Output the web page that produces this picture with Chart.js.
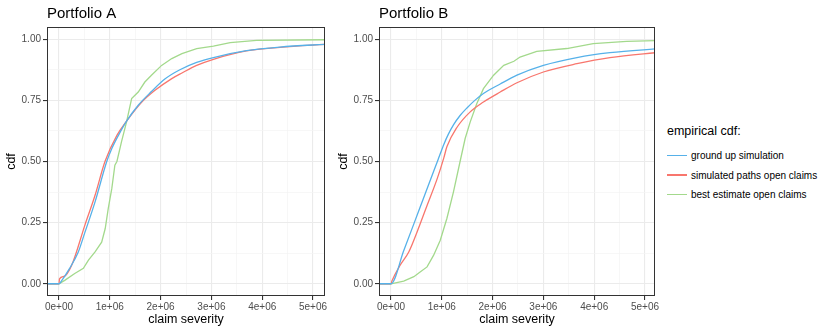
<!DOCTYPE html>
<html>
<head>
<meta charset="utf-8">
<script src="https://cdn.jsdelivr.net/npm/chart.js@4"></script>
<style>
  body{margin:0;background:#fff;font-family:"Liberation Sans",Arial,sans-serif;}
  #wrap{position:relative;width:830px;height:332px;}
  .panel{position:absolute;top:0;width:330px;height:332px;}
  #lg{position:absolute;left:667px;top:120px;color:#000;}
  #lg .t{font-size:12.5px;position:absolute;left:0;top:4px;white-space:nowrap;}
  #lg .it{position:absolute;left:0;font-size:10px;white-space:nowrap;height:14px;line-height:14px;}
  #lg .k{display:inline-block;width:20px;height:1.4px;vertical-align:middle;margin-right:4px;position:relative;top:-1px;}
</style>
</head>
<body>
<div id="wrap">
  <div class="panel" style="left:0"><canvas id="cA" width="330" height="332"></canvas></div>
  <div class="panel" style="left:332px"><canvas id="cB" width="330" height="332"></canvas></div>
  <div id="lg"></div>
</div>
<script>
// x in millions (claim severity / 1e6), y = empirical cdf
const seriesNames = ["ground up simulation","simulated paths open claims","best estimate open claims"];
const seriesColors = ["#56B1E9","#F8766D","#A3D98C"];

const blueA = [[-1,0],[0,0],[0.05,0.012],[0.2,0.06],[0.38,0.13],[0.51,0.21],[0.71,0.335],[0.94,0.50],[1.04,0.553],[1.17,0.607],[1.33,0.665],[1.56,0.73],[1.82,0.786],[2.09,0.838],[2.38,0.875],[2.71,0.905],[3.04,0.925],[3.69,0.953],[4.35,0.968],[5.3,0.98]];
const redA = [[-1,0],[0,0],[0.01,0.02],[0.1,0.03],[0.25,0.076],[0.51,0.24],[0.71,0.362],[0.905,0.50],[1.14,0.607],[1.33,0.665],[1.63,0.743],[1.89,0.791],[2.22,0.839],[2.42,0.862],[2.71,0.893],[3.04,0.918],[3.69,0.952],[4.35,0.967],[5.3,0.98]];
const greenA = [[-1,0],[0,0],[0.12,0.015],[0.31,0.042],[0.48,0.063],[0.58,0.097],[0.71,0.13],[0.84,0.17],[0.91,0.226],[0.97,0.308],[1.04,0.39],[1.10,0.485],[1.14,0.50],[1.23,0.58],[1.33,0.662],[1.43,0.757],[1.56,0.784],[1.69,0.825],[1.82,0.853],[2.02,0.893],[2.22,0.921],[2.42,0.941],[2.71,0.962],[3.04,0.972],[3.37,0.986],[3.89,0.995],[5.3,0.998]];

const blueB = [[-1,0],[0,0],[0.25,0.135],[0.45,0.245],[0.64,0.35],[0.84,0.46],[0.94,0.515],[1.04,0.57],[1.13,0.612],[1.23,0.65],[1.36,0.688],[1.50,0.72],[1.65,0.75],[1.82,0.778],[2.15,0.817],[2.48,0.853],[3.0,0.893],[3.66,0.925],[4.31,0.945],[5.3,0.962]];
const redB = [[-1,0],[0,0],[0.02,0.012],[0.18,0.076],[0.35,0.13],[0.51,0.21],[0.71,0.32],[0.91,0.43],[1.04,0.515],[1.10,0.56],[1.30,0.64],[1.56,0.703],[1.82,0.743],[2.15,0.784],[2.48,0.822],[3.0,0.866],[3.66,0.90],[4.31,0.925],[5.3,0.947]];
const greenB = [[-1,0],[0,0],[0.25,0.011],[0.45,0.029],[0.58,0.049],[0.71,0.069],[0.84,0.117],[0.97,0.178],[1.10,0.267],[1.23,0.376],[1.36,0.50],[1.46,0.594],[1.56,0.662],[1.69,0.737],[1.82,0.798],[2.02,0.853],[2.22,0.893],[2.42,0.91],[2.54,0.927],[2.87,0.95],[3.46,0.962],[3.98,0.982],[4.64,0.991],[5.3,0.995]];

const xMajor = [0,1,2,3,4,5];
const xMinor = [0.5,1.5,2.5,3.5,4.5];
const yMajor = [0,0.25,0.5,0.75,1];
const yMinor = [0.125,0.375,0.625,0.875];

const FONT = "'Liberation Sans', Arial, sans-serif";

// panel title + full border
const panelDeco = {
  id:"panelDeco",
  afterDraw(c){
    const a=c.chartArea, x=c.ctx;
    x.save();
    x.strokeStyle="#333333"; x.lineWidth=1;
    x.strokeRect(a.left+0.5,a.top+0.5,a.right-a.left-1,a.bottom-a.top-1);
    x.fillStyle="#000"; x.font="15px "+FONT; x.textBaseline="alphabetic";
    x.fillText(c.options.plugins.panelDeco.text,a.left,18);
    x.restore();
  }
};

const isMajor = (v,arr)=>arr.some(m=>Math.abs(m-v)<1e-9);

function makeChart(id,title,sets,xMax,rightPad){
  return new Chart(document.getElementById(id),{
    type:"line",
    data:{datasets:sets.map((d,i)=>({
      label:seriesNames[i],
      data:d.map(p=>({x:p[0],y:p[1]})),
      borderColor:seriesColors[i],
      borderWidth:1.3,
      pointRadius:0,
      cubicInterpolationMode:i<2?"monotone":"default",
      tension:0
    }))},
    options:{
      responsive:false,
      animation:false,
      layout:{padding:{top:27,right:rightPad,left:0,bottom:0}},
      plugins:{legend:{display:false},tooltip:{enabled:false},panelDeco:{text:title}},
      scales:{
        x:{
          type:"linear",min:-0.236,max:xMax,
          afterBuildTicks:s=>{s.ticks=[...xMajor,...xMinor].sort((a,b)=>a-b).map(v=>({value:v}));},
          afterFit:s=>{s.height=36;},
          ticks:{
            color:"#4D4D4D",font:{family:FONT,size:10},padding:1,maxRotation:0,autoSkip:false,
            callback:v=>isMajor(v,xMajor)?(v===0?"0e+00":v+"e+06"):""
          },
          grid:{
            color:c=>isMajor(c.tick.value,xMajor)?"#EBEBEB":"#F3F3F3",
            lineWidth:c=>isMajor(c.tick.value,xMajor)?1.1:0.7,
            tickColor:c=>isMajor(c.tick.value,xMajor)?"#333333":"rgba(0,0,0,0)",
            tickLength:4
          },
          border:{display:false},
          title:{display:true,text:"claim severity",color:"#000",font:{family:FONT,size:12.5},padding:{top:0,bottom:5}}
        },
        y:{
          min:-0.05,max:1.05,
          afterBuildTicks:s=>{s.ticks=[...yMajor,...yMinor].sort((a,b)=>a-b).map(v=>({value:v}));},
          afterFit:s=>{s.width=47;},
          ticks:{
            color:"#4D4D4D",font:{family:FONT,size:10},padding:2,autoSkip:false,
            callback:v=>isMajor(v,yMajor)?v.toFixed(2):""
          },
          grid:{
            color:c=>isMajor(c.tick.value,yMajor)?"#EBEBEB":"#F3F3F3",
            lineWidth:c=>isMajor(c.tick.value,yMajor)?1.1:0.7,
            tickColor:c=>isMajor(c.tick.value,yMajor)?"#333333":"rgba(0,0,0,0)",
            tickLength:4
          },
          border:{display:false},
          title:{display:true,text:"cdf",color:"#000",font:{family:FONT,size:12.5},padding:{top:4,bottom:0}}
        }
      }
    },
    plugins:[panelDeco]
  });
}

makeChart("cA","Portfolio A",[blueA,redA,greenA],5.236,5);
makeChart("cB","Portfolio B",[blueB,redB,greenB],5.197,7);

// legend
const lg=document.getElementById("lg");
lg.innerHTML='<div class="t">empirical cdf:</div>'+seriesNames.map((n,i)=>
  `<div class="it" style="top:${29+i*19.5}px"><span class="k" style="background:${seriesColors[i]}"></span>${n}</div>`
).join("");
</script>
</body>
</html>
